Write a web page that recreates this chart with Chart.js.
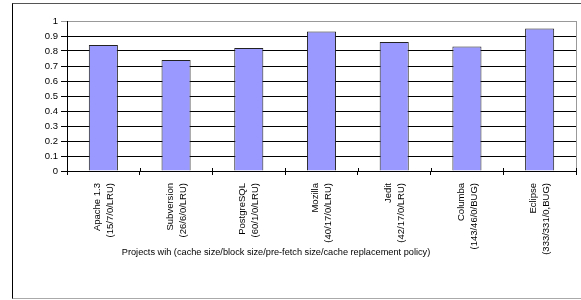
<!DOCTYPE html>
<html>
<head>
<meta charset="utf-8">
<script src="https://cdn.jsdelivr.net/npm/chart.js@4/dist/chart.umd.min.js"></script>
<style>
  html, body { margin: 0; padding: 0; background: #fff; }
  #wrap { position: relative; width: 581px; height: 300px; overflow: hidden; }
  #frame { position: absolute; left: 12px; top: 3px; width: 600px; height: 294px;
           border-left: 1px solid #000; border-top: 1px solid #555; border-bottom: 1px solid #aaa; }
  canvas { position: absolute; left: 0; top: 0; }
</style>
</head>
<body>
<div id="wrap">
  <div id="frame"></div>
  <canvas id="c" width="581" height="300"></canvas>
</div>
<script>
const projects = ["Apache 1.3", "Subversion", "PostgreSQL", "Mozilla", "Jedit", "Columba", "Eclipse"];
const configs = ["(15/7/0/LRU)", "(26/6/0/LRU)", "(60/1/0/LRU)", "(40/17/0/LRU)", "(42/17/0/LRU)", "(143/46/0/BUG)", "(333/331/0,BUG)"];
const values = [0.84, 0.74, 0.82, 0.93, 0.86, 0.83, 0.95];
const xTitle = "Projects wih (cache size/block size/pre-fetch size/cache replacement policy)";
const yMin = 0, yMax = 1, yStep = 0.1;

const labels = projects.map((p, i) => [p, configs[i]]);
const FONT = "'Liberation Sans', Arial, sans-serif";

const framePlugin = {
  id: 'framePlugin',
  afterDraw(chart) {
    const { ctx, chartArea } = chart;
    ctx.save();
    ctx.strokeStyle = '#999';
    ctx.lineWidth = 1;
    ctx.beginPath();
    ctx.moveTo(Math.round(chartArea.right) + 0.5, chartArea.top);
    ctx.lineTo(Math.round(chartArea.right) + 0.5, chartArea.bottom);
    ctx.stroke();
    // x-axis ticks poking above axis
    const xs = chart.scales.x;
    ctx.strokeStyle = '#000';
    ctx.beginPath();
    for (let i = 0; i <= labels.length; i++) {
      const x = Math.round(xs.left + (xs.right - xs.left) * i / labels.length) + 0.5;
      ctx.moveTo(x, chartArea.bottom - 3);
      ctx.lineTo(x, chartArea.bottom);
    }
    ctx.stroke();
    ctx.fillStyle = '#000';
    ctx.font = "9.2px " + FONT;
    ctx.textAlign = 'center';
    ctx.textBaseline = 'middle';
    ctx.fillText(xTitle, 276, 252);
    ctx.restore();
  }
};

new Chart(document.getElementById('c'), {
  type: 'bar',
  data: {
    labels: labels,
    datasets: [{
      data: values,
      backgroundColor: '#9999FF',
      borderColor: '#222',
      borderWidth: 1,
      categoryPercentage: 1,
      barPercentage: 0.4
    }]
  },
  options: {
    responsive: false,
    animation: false,
    devicePixelRatio: 1,
    layout: { padding: { left: 0, right: 5, top: 21, bottom: 0 } },
    plugins: { legend: { display: false }, tooltip: { enabled: false } },
    scales: {
      x: {
        grid: { display: true, drawOnChartArea: false, offset: true, tickLength: 4, color: '#000' },
        border: { color: '#000' },
        ticks: {
          autoSkip: false, maxRotation: 90, minRotation: 90, padding: 8,
          labelOffset: -6,
          color: '#000', font: { family: FONT, size: 9.5, lineHeight: '13px' }
        },
        afterFit(s) { s.height = 129; }
      },
      y: {
        min: yMin, max: yMax,
        grid: {
          color: (c) => (c.tick && c.tick.value >= 1 ? '#999' : '#000'),
          tickLength: 6
        },
        border: { color: '#000' },
        ticks: {
          stepSize: yStep, padding: 3, color: '#000',
          font: { family: FONT, size: 9.5 },
          callback: (v) => String(Math.round(v * 10) / 10)
        },
        afterFit(s) { s.width = 67; }
      }
    }
  },
  plugins: [framePlugin]
});
</script>
</body>
</html>
